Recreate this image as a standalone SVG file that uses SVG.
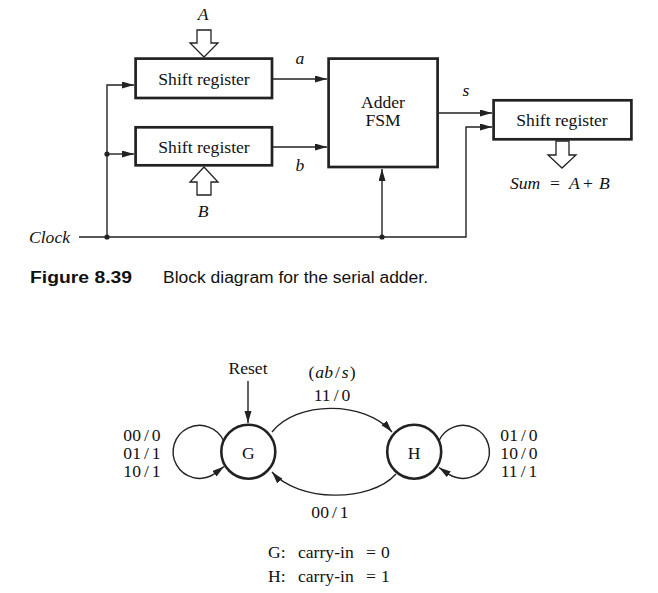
<svg xmlns="http://www.w3.org/2000/svg" width="658" height="593" viewBox="0 0 658 593">
<style>
.t{font-family:"Liberation Serif","Times New Roman",serif;font-size:17.6px;fill:#111}
.i{font-style:italic}
.m{text-anchor:middle}
.box{fill:#fff;stroke:#222;stroke-width:2.7}
.st{fill:#fff;stroke:#222;stroke-width:2.6}
.w{fill:none;stroke:#222;stroke-width:1.4}
.ho{fill:#fff;stroke:#222;stroke-width:1.3;stroke-linejoin:miter}
.cap{font-family:"Liberation Sans",Arial,sans-serif;font-size:16px;fill:#111}
</style>
<defs>
<marker id="ah" markerUnits="userSpaceOnUse" markerWidth="13" markerHeight="8" refX="12" refY="3.5" orient="auto">
<path d="M0,0 L12,3.5 L0,7 Z" fill="#222"/>
</marker>
</defs>
<rect width="658" height="593" fill="#fff"/>

<g id="connectors">
<path class="w" d="M79,237 H466 V127 H492" marker-end="url(#ah)"/>
<path class="w" d="M107,237 V85 H134" marker-end="url(#ah)"/>
<path class="w" d="M107,154 H134" marker-end="url(#ah)"/>
<path class="w" d="M382,237 V169" marker-end="url(#ah)"/>
<path class="w" d="M273,79 H327" marker-end="url(#ah)"/>
<path class="w" d="M273,147 H327" marker-end="url(#ah)"/>
<path class="w" d="M439,113 H492" marker-end="url(#ah)"/>
<circle cx="107" cy="237" r="2.6" fill="#222"/>
<circle cx="107" cy="154" r="2.6" fill="#222"/>
<circle cx="382" cy="237" r="2.6" fill="#222"/>
<path class="w" d="M248,381 V423" marker-end="url(#ah)"/>
<path class="w" d="M272,432 C296,401 364,400 392,432" marker-end="url(#ah)"/>
<path class="w" d="M396,474 C370,503 298,502 272,472" marker-end="url(#ah)"/>
<path class="w" d="M224,441.5 A26.5,26.5 0 1 0 213.9,474.2 L224,466.5" marker-end="url(#ah)"/>
<path class="w" d="M438.5,441.5 A26.5,26.5 0 1 1 448.6,474.2 L439,467.5" marker-end="url(#ah)"/>
</g>

<g id="inA">
<polygon class="ho" points="197,30 211,30 211,43 218,43 204,57 190,43 197,43"/>
<text class="t i m" x="203" y="20" font-size="18">A</text>
</g>
<g id="inB">
<polygon class="ho" points="204,167 218,182 211,182 211,195 197,195 197,182 190,182"/>
<text class="t i m" x="203" y="217" font-size="18">B</text>
</g>
<g id="regA">
<rect class="box" x="135.6" y="58.6" width="136.4" height="39.4"/>
<text class="t m" x="204" y="85">Shift register</text>
</g>
<g id="regB">
<rect class="box" x="135.6" y="127.3" width="136.4" height="38"/>
<text class="t m" x="204" y="153">Shift register</text>
</g>
<g id="fsm">
<rect class="box" x="328.6" y="58.6" width="109" height="108.4"/>
<text class="t m" x="383" y="107.5">Adder</text>
<text class="t m" x="383" y="126">FSM</text>
</g>
<g id="regS">
<rect class="box" x="493.6" y="100.3" width="137.8" height="39"/>
<text class="t m" x="562" y="126">Shift register</text>
</g>
<g id="outSum">
<polygon class="ho" points="556,141 569,141 569,155 576,155 562,168 548,155 556,155"/>
<text class="t" font-size="18.5"><tspan class="i" x="510" y="189">Sum</tspan><tspan x="550" y="189">=</tspan><tspan class="i" x="569" y="189">A</tspan><tspan x="583" y="189">+</tspan><tspan class="i" x="599" y="189">B</tspan></text>
</g>
<g id="labels">
<text class="t i m" x="300" y="64" font-size="18">a</text>
<text class="t i m" x="300" y="170.5" font-size="18">b</text>
<text class="t i m" x="466" y="96" font-size="18">s</text>
<text class="t i" x="29" y="242.5">Clock</text>
</g>
<g id="caption">
<text class="cap" x="30" y="283" font-weight="bold" textLength="102" lengthAdjust="spacingAndGlyphs">Figure 8.39</text>
<text class="cap" x="163" y="283" textLength="265" lengthAdjust="spacingAndGlyphs">Block diagram for the serial adder.</text>
</g>

<g id="stateG">
<circle class="st" cx="248.3" cy="451.7" r="27"/>
<text class="t m" x="248.3" y="459">G</text>
</g>
<g id="stateH">
<circle class="st" cx="414.2" cy="451.7" r="27"/>
<text class="t m" x="414.2" y="459">H</text>
</g>
<g id="stlabels">
<text class="t m" x="248" y="374">Reset</text>
<text class="t m" x="332" y="378">(<tspan class="i" dx="1">ab</tspan><tspan dx="2">/</tspan><tspan class="i" dx="2">s</tspan><tspan dx="1">)</tspan></text>
<text class="t m" x="332" y="400.5">11<tspan dx="3">/</tspan><tspan dx="3">0</tspan></text>
<text class="t m" x="142" y="440.5">00<tspan dx="3">/</tspan><tspan dx="3">0</tspan></text>
<text class="t m" x="142" y="459">01<tspan dx="3">/</tspan><tspan dx="3">1</tspan></text>
<text class="t m" x="142" y="476.5">10<tspan dx="3">/</tspan><tspan dx="3">1</tspan></text>
<text class="t m" x="519" y="440.5">01<tspan dx="3">/</tspan><tspan dx="3">0</tspan></text>
<text class="t m" x="519" y="459">10<tspan dx="3">/</tspan><tspan dx="3">0</tspan></text>
<text class="t m" x="519" y="476.5">11<tspan dx="3">/</tspan><tspan dx="3">1</tspan></text>
<text class="t m" x="330" y="518">00<tspan dx="3">/</tspan><tspan dx="3">1</tspan></text>
<text class="t"><tspan x="268" y="558">G:</tspan><tspan x="298" y="558">carry-in</tspan><tspan x="366" y="558">=</tspan><tspan x="381" y="558">0</tspan></text>
<text class="t"><tspan x="268" y="581.5">H:</tspan><tspan x="298" y="581.5">carry-in</tspan><tspan x="366" y="581.5">=</tspan><tspan x="381" y="581.5">1</tspan></text>
</g>
</svg>
